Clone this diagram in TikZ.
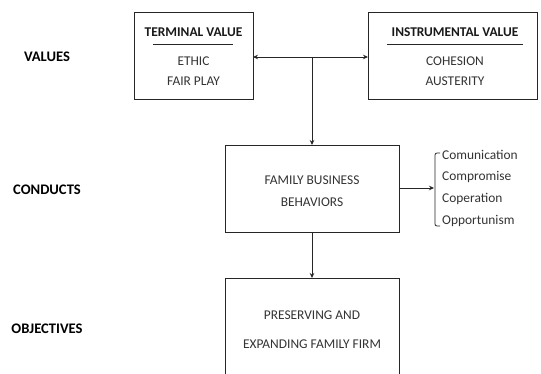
\documentclass[tikz,border=0pt]{standalone}
\usepackage{fontspec}
\setmainfont{Carlito}
\usetikzlibrary{arrows.meta}
\begin{document}
\begin{tikzpicture}[x=1pt,y=-1pt,
  box/.style={draw=black!85,line width=0.8pt},
  txt/.style={font=\fontsize{13.4}{15}\selectfont,text=black!80,inner sep=0pt},
  head/.style={font=\bfseries\fontsize{13.4}{15}\selectfont,text=black!90,inner sep=0pt},
  lab/.style={font=\bfseries\fontsize{14.6}{16}\selectfont,text=black,inner sep=0pt},
  arr/.style={draw=black!85,line width=0.8pt,-{Stealth[length=5pt,width=4.5pt]}},
  ln/.style={draw=black!85,line width=0.8pt}]
\useasboundingbox (0,0) rectangle (541,374);
% boxes
\draw[box] (134,12) rectangle (253,99);
\coordinate (tl) at (253,57);
\draw[box] (368,12) rectangle (537,99);
\coordinate (il) at (368,57);
\draw[box] (225,145) rectangle (399,232);
\draw[box] (225,278) -- (225,376) (225,278) -- (399,278) -- (399,376);
% terminal
\node[head] (th) at (193.5,32) {TERMINAL VALUE};
\draw[ln] (153,44) -- (233,44);
\node[txt] (t1) at (193.5,61) {ETHIC};
\node[txt] (t2) at (193.5,81) {FAIR PLAY};
% instrumental
\node[head] (ih) at (455,32) {INSTRUMENTAL VALUE};
\draw[ln] (387,44) -- (523,44);
\node[txt] (i1) at (455,61) {COHESION};
\node[txt] (i2) at (455,81) {AUSTERITY};
% family
\node[txt] (f1) at (312,180) {FAMILY BUSINESS};
\node[txt] (f2) at (312,202) {BEHAVIORS};
% objectives
\node[txt] (o1) at (312,315) {PRESERVING AND};
\node[txt] (o2) at (312,344) {EXPANDING FAMILY FIRM};
% labels
\node[lab] (lv) at (47,57) {VALUES};
\node[lab] (lc) at (47,190) {CONDUCTS};
\node[lab] (lo) at (47,329) {OBJECTIVES};
% connectors
\coordinate (mid) at (312,57);
\draw[arr] (mid) -- (tl);
\draw[arr] (mid) -- (il);
\draw[arr] (mid) -- (312,145);
\draw[arr] (312,232) -- (312,278);
\draw[arr] (399,188) -- (434,188);
\draw[ln,rounded corners=2pt] (440,153) -- (435,153) -- (435,226) -- (440,226);
% list
\node[txt,anchor=west] (c1) at (442,155) {Comunication};
\node[txt,anchor=west] (c2) at (442,177) {Compromise};
\node[txt,anchor=west] (c3) at (442,199) {Coperation};
\node[txt,anchor=west] (c4) at (442,221) {Opportunism};
\end{tikzpicture}
\end{document}
